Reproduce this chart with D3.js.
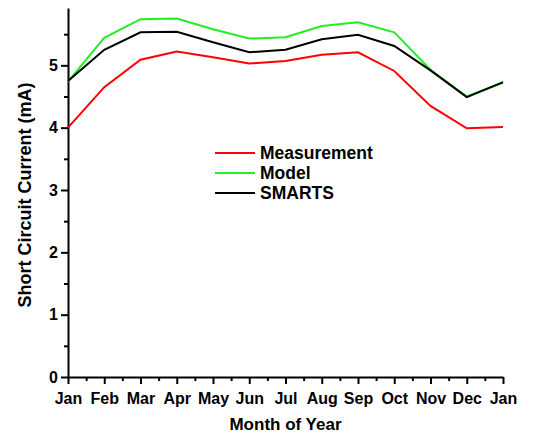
<!DOCTYPE html>
<html>
<head>
<meta charset="utf-8">
<script src="https://cdn.jsdelivr.net/npm/d3@7"></script>
<style>
  body { margin: 0; background: #fff; }
  text { font-family: "Liberation Sans", Arial, sans-serif; font-weight: bold; }
</style>
</head>
<body>
<div id="chart"></div>
<script>
// data
const months = ['Jan', 'Feb', 'Mar', 'Apr', 'May', 'Jun', 'Jul', 'Aug', 'Sep', 'Oct', 'Nov', 'Dec', 'Jan'];
const measurement = [4.00, 4.65, 5.09, 5.22, 5.13, 5.03, 5.07, 5.17, 5.21, 4.91, 4.35, 3.99, 4.01];
const model = [4.74, 5.44, 5.74, 5.75, 5.58, 5.43, 5.45, 5.63, 5.69, 5.53, 4.93, 4.50, 4.72];
const smarts = [4.75, 5.25, 5.53, 5.54, 5.37, 5.21, 5.25, 5.42, 5.49, 5.31, 4.92, 4.49, 4.73];
const yTicks = [0, 1, 2, 3, 4, 5];

const svgWidth = 548;
const svgHeight = 433;
const margin = { top: 8, right: 45, bottom: 56, left: 68 };
const width = svgWidth - margin.left - margin.right;
const height = svgHeight - margin.top - margin.bottom;

const svg = d3.select('#chart')
    .append('svg')
    .attr('width', svgWidth)
    .attr('height', svgHeight);

const chartGroup = svg.append('g')
    .attr('transform', `translate(${margin.left}, ${margin.top})`);

const xScale = d3.scaleLinear()
    .domain([0, months.length - 1])
    .range([0, width]);

const yScale = d3.scaleLinear()
    .domain([0, 5.92])
    .range([height, 0]);

// minor ticks first
chartGroup.append('g')
    .attr('transform', `translate(0, ${height})`)
    .call(d3.axisBottom(xScale).tickValues(d3.range(0.5, 12, 1)).tickSize(4).tickFormat(''))
    .call(g => g.select('.domain').remove())
    .selectAll('line').attr('stroke-width', 2);

chartGroup.append('g')
    .call(d3.axisLeft(yScale).tickValues(d3.range(0.5, 6, 1)).tickSize(4).tickFormat(''))
    .call(g => g.select('.domain').remove())
    .selectAll('line').attr('stroke-width', 2);

// major axes
const xAxis = chartGroup.append('g')
    .attr('transform', `translate(0, ${height})`)
    .call(d3.axisBottom(xScale)
        .tickValues(d3.range(0, months.length))
        .tickFormat(i => months[i])
        .tickSize(7)
        .tickSizeOuter(0)
        .tickPadding(9));

const yAxis = chartGroup.append('g')
    .call(d3.axisLeft(yScale)
        .tickValues(yTicks)
        .tickFormat(d3.format('d'))
        .tickSize(7)
        .tickSizeOuter(0)
        .tickPadding(3));

[xAxis, yAxis].forEach(ax => {
    ax.select('.domain').attr('stroke-width', 2);
    ax.selectAll('line').attr('stroke-width', 2);
    ax.selectAll('text').attr('font-size', 16).attr('fill', '#000');
});

// lines
const series = [
    { name: 'Measurement', values: measurement, color: '#ff0000' },
    { name: 'Model', values: model, color: '#22ee22' },
    { name: 'SMARTS', values: smarts, color: '#000000' }
];

const line = d3.line()
    .x((d, i) => xScale(i))
    .y(d => yScale(d));

chartGroup.selectAll('.series')
    .data(series)
    .enter()
    .append('path')
    .classed('series', true)
    .attr('d', d => line(d.values))
    .attr('fill', 'none')
    .attr('stroke', d => d.color)
    .attr('stroke-width', 2);

// legend
const legend = svg.append('g')
    .attr('transform', 'translate(215, 153)');

const items = legend.selectAll('g')
    .data(series)
    .enter()
    .append('g')
    .attr('transform', (d, i) => `translate(0, ${i * 20})`);

items.append('line')
    .attr('x1', 0).attr('x2', 40)
    .attr('stroke', d => d.color)
    .attr('stroke-width', 2);

items.append('text')
    .attr('x', 45)
    .attr('dy', '0.36em')
    .attr('font-size', 17.5)
    .text(d => d.name);

// axis labels
svg.append('text')
    .attr('x', margin.left + width / 2)
    .attr('y', 430)
    .attr('text-anchor', 'middle')
    .attr('font-size', 17)
    .text('Month of Year');

svg.append('text')
    .attr('transform', 'translate(31, 195) rotate(-90)')
    .attr('text-anchor', 'middle')
    .attr('font-size', 18)
    .text('Short Circuit Current (mA)');
</script>
</body>
</html>
